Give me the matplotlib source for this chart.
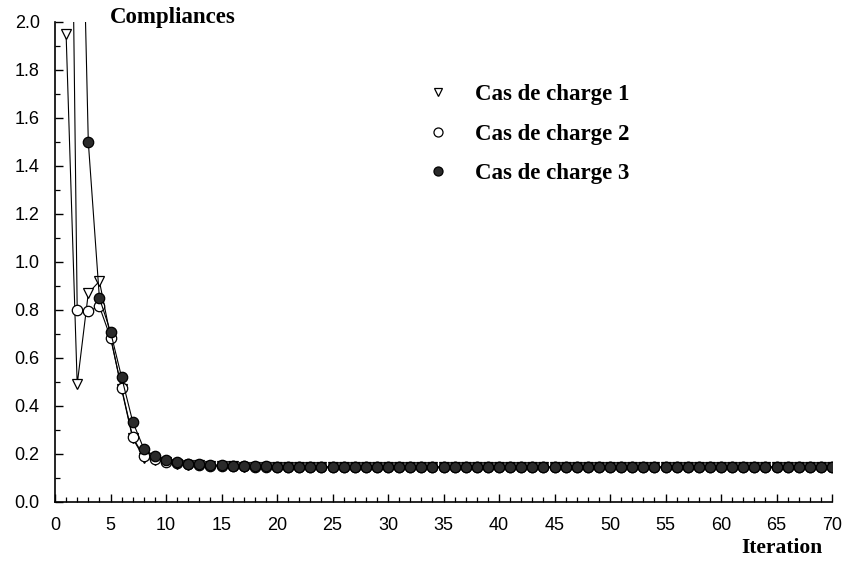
import matplotlib
matplotlib.use("Agg")
import matplotlib.pyplot as plt
from matplotlib.lines import Line2D
from matplotlib.ticker import MultipleLocator, FormatStrFormatter

iterations = list(range(1, 71))

cas1 = [1.95, 0.49, 0.87, 0.92, 0.69, 0.47, 0.265, 0.185, 0.175, 0.166,
        0.160, 0.156, 0.153, 0.151, 0.149, 0.148, 0.147, 0.146, 0.146, 0.145,
        0.145, 0.145, 0.145, 0.145, 0.145, 0.145, 0.145, 0.145, 0.145, 0.145,
        0.145, 0.145, 0.145, 0.145, 0.145, 0.145, 0.145, 0.145, 0.145, 0.145,
        0.145, 0.145, 0.145, 0.145, 0.145, 0.145, 0.145, 0.145, 0.145, 0.145,
        0.145, 0.145, 0.145, 0.145, 0.145, 0.145, 0.145, 0.145, 0.145, 0.145,
        0.145, 0.145, 0.145, 0.145, 0.145, 0.145, 0.145, 0.145, 0.145, 0.145]

cas2 = [4.6, 0.80, 0.795, 0.815, 0.685, 0.475, 0.27, 0.19, 0.178, 0.168,
        0.161, 0.157, 0.154, 0.152, 0.150, 0.149, 0.148, 0.147, 0.146, 0.146,
        0.145, 0.145, 0.145, 0.145, 0.145, 0.145, 0.145, 0.145, 0.145, 0.145,
        0.145, 0.145, 0.145, 0.145, 0.145, 0.145, 0.145, 0.145, 0.145, 0.145,
        0.145, 0.145, 0.145, 0.145, 0.145, 0.145, 0.145, 0.145, 0.145, 0.145,
        0.145, 0.145, 0.145, 0.145, 0.145, 0.145, 0.145, 0.145, 0.145, 0.145,
        0.145, 0.145, 0.145, 0.145, 0.145, 0.145, 0.145, 0.145, 0.145, 0.145]

cas3 = [4.5, 3.5, 1.50, 0.85, 0.71, 0.52, 0.335, 0.222, 0.19, 0.174,
        0.165, 0.160, 0.157, 0.155, 0.153, 0.151, 0.150, 0.149, 0.148, 0.147,
        0.147, 0.146, 0.146, 0.146, 0.146, 0.146, 0.146, 0.146, 0.146, 0.146,
        0.146, 0.146, 0.146, 0.146, 0.146, 0.146, 0.146, 0.146, 0.146, 0.146,
        0.146, 0.146, 0.146, 0.146, 0.146, 0.146, 0.146, 0.146, 0.146, 0.146,
        0.146, 0.146, 0.146, 0.146, 0.146, 0.146, 0.146, 0.146, 0.146, 0.146,
        0.146, 0.146, 0.146, 0.146, 0.146, 0.146, 0.146, 0.146, 0.146, 0.146]

legend_labels = ["Cas de charge 1", "Cas de charge 2", "Cas de charge 3"]
title_text = "Compliances"
xlabel_text = "Iteration"

fig = plt.figure(figsize=(8.46, 5.61), dpi=100)
ax = fig.add_axes([55 / 846, 1 - 502 / 561, 777 / 846, 480 / 561])

ax.plot(iterations, cas1, color="black", lw=0.8, marker="v", ms=7.5,
        mfc="white", mec="black", mew=0.9, zorder=3)
ax.plot(iterations, cas2, color="black", lw=0.8, marker="o", ms=7.5,
        mfc="white", mec="black", mew=0.9, zorder=4)
ax.plot(iterations, cas3, color="black", lw=0.8, marker="o", ms=7.5,
        mfc="#2a2a2a", mec="black", mew=0.9, zorder=5)

ax.set_xlim(0, 70)
ax.set_ylim(0, 2.0)
for s in ["top", "right"]:
    ax.spines[s].set_visible(False)
for s in ["left", "bottom"]:
    ax.spines[s].set_linewidth(1.2)

ax.xaxis.set_major_locator(MultipleLocator(5))
ax.xaxis.set_minor_locator(MultipleLocator(1))
ax.yaxis.set_major_locator(MultipleLocator(0.2))
ax.yaxis.set_minor_locator(MultipleLocator(0.1))
ax.yaxis.set_major_formatter(FormatStrFormatter("%.1f"))
ax.tick_params(which="major", direction="in", length=6, width=1.0,
               pad=11, labelsize=13)
ax.tick_params(which="minor", direction="in", length=3.5, width=0.9)
for lab in ax.get_xticklabels() + ax.get_yticklabels():
    lab.set_fontfamily("Liberation Sans")

handles = [
    Line2D([], [], ls="none", marker="v", ms=6, mfc="white", mec="black", mew=0.9),
    Line2D([], [], ls="none", marker="o", ms=6.5, mfc="white", mec="black", mew=0.9),
    Line2D([], [], ls="none", marker="o", ms=6.5, mfc="#2a2a2a", mec="black", mew=0.9),
]
ax.legend(handles, legend_labels, loc="upper left",
          bbox_to_anchor=((415 - 55) / 777, (502 - 75) / 480),
          frameon=False, handlelength=1.2, handletextpad=1.0,
          labelspacing=0.8, borderaxespad=0,
          prop={"family": "Liberation Serif", "size": 16.5, "weight": "bold"})

fig.text(110 / 846, 1 - 18 / 561, title_text, ha="left", va="center",
         family="Liberation Serif", fontsize=16.5, fontweight="bold")
fig.text(823 / 846, 1 - 548 / 561, xlabel_text, ha="right", va="center",
         family="Liberation Serif", fontsize=15.5, fontweight="bold")

fig.savefig("out.png", dpi=100)
